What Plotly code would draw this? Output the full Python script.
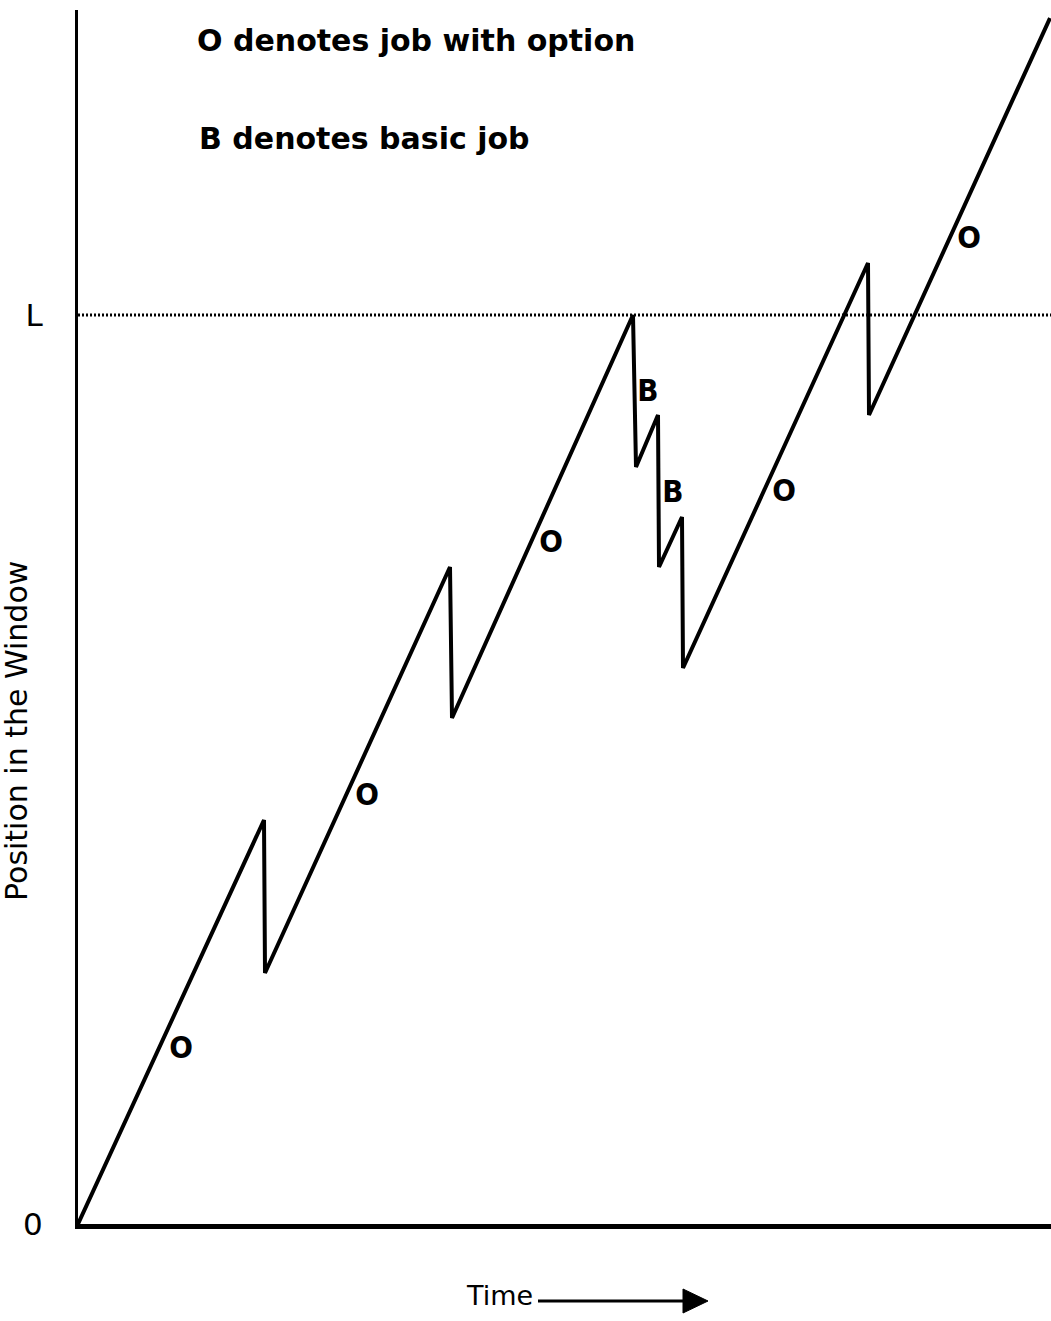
import plotly.graph_objects as go

# Sawtooth path: time vs position in the window
time_pts = [0, 186, 187, 372, 374, 555, 558, 580, 581, 604, 605, 790, 791, 972]
pos_pts = [0, 404, 251, 657, 506, 909, 757, 809, 657, 707, 556, 961, 809, 1206]

L_level = 909
x_max = 973
y_max = 1214

label_text = ["O", "O", "O", "O", "O", "B", "B"]
label_x = [103, 289, 473, 706, 891, 570, 595]
label_y = [174, 427, 680, 731, 984, 831, 730]

tick_vals = [0, L_level]
tick_text = ["0", "L"]

W, H = 1051, 1321
ML, MR, MT, MB = 78, 0, 10, 97
PW = W - ML - MR
PH = H - MT - MB


def px(xp):
    return (xp - ML) / PW


def py(yp):
    return (H - MB - yp) / PH


fig = go.Figure()

fig.add_trace(go.Scatter(
    x=[0, x_max], y=[L_level, L_level], mode="lines",
    line=dict(color="black", width=3, dash="2px,2px"),
    hoverinfo="skip", showlegend=False, cliponaxis=False,
))

fig.add_trace(go.Scatter(
    x=time_pts, y=pos_pts, mode="lines",
    line=dict(color="black", width=4),
    showlegend=False, cliponaxis=False,
))

fig.add_trace(go.Scatter(
    x=label_x, y=label_y, mode="text", text=label_text,
    textfont=dict(family="DejaVu Sans Condensed, DejaVu Sans", size=31, color="black", weight="bold"),
    textposition="middle center", showlegend=False, hoverinfo="skip",
))

annotations = [
    dict(text="<b>O denotes job with option</b>", x=px(195), y=py(40), xref="paper", yref="paper",
         xanchor="left", yanchor="middle", showarrow=False,
         font=dict(family="DejaVu Sans", size=30, color="black")),
    dict(text="<b>B denotes basic job</b>", x=px(197), y=py(139), xref="paper", yref="paper",
         xanchor="left", yanchor="middle", showarrow=False,
         font=dict(family="DejaVu Sans", size=30, color="black")),
    dict(text="Position in the Window", x=px(17), y=py(731), xref="paper", yref="paper",
         xanchor="center", yanchor="middle", showarrow=False, textangle=-90,
         font=dict(family="DejaVu Sans", size=30, color="black")),
    dict(text="Time", x=px(535), y=py(1295), xref="paper", yref="paper",
         xanchor="right", yanchor="middle", showarrow=False,
         font=dict(family="DejaVu Sans", size=27, color="black")),
]

shapes = [
    dict(type="line", xref="paper", yref="paper", x0=px(538), x1=px(688), y0=py(1301), y1=py(1301),
         line=dict(color="black", width=3)),
    dict(type="path", xref="paper", yref="paper",
         path=f"M {px(683)} {py(1289)} L {px(708)} {py(1301)} L {px(683)} {py(1313)} Z",
         fillcolor="black", line=dict(color="black", width=1)),
]

fig.update_layout(
    width=W, height=H,
    margin=dict(l=ML, r=MR, t=MT, b=MB),
    paper_bgcolor="white", plot_bgcolor="white",
    showlegend=False,
    annotations=annotations,
    shapes=shapes,
    xaxis=dict(range=[0, x_max], showgrid=False, zeroline=False, showticklabels=False,
               ticks="", showline=True, linecolor="black", linewidth=5, fixedrange=True),
    yaxis=dict(range=[0, y_max], showgrid=False, zeroline=False, tickvals=tick_vals,
               ticktext=tick_text, ticks="", ticklabelstandoff=26,
               tickfont=dict(family="DejaVu Sans", size=31, color="black"),
               showline=True, linecolor="black", linewidth=3, fixedrange=True),
)

fig.write_html(
    "out.html",
    config={"displayModeBar": False},
    post_script="document.body.style.margin='0';document.body.style.overflow='hidden';",
)
